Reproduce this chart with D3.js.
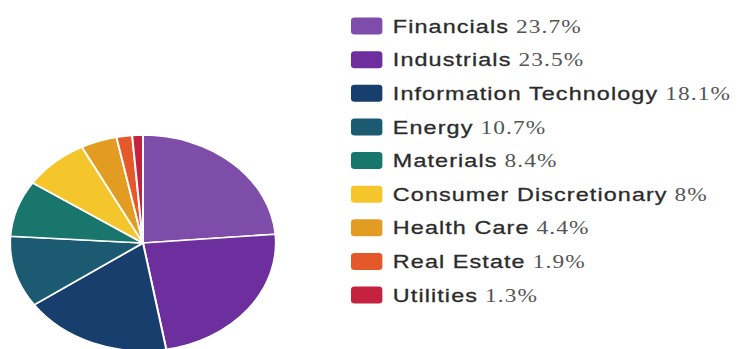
<!DOCTYPE html>
<html>
<head>
<meta charset="utf-8">
<script src="https://cdn.jsdelivr.net/npm/d3@7"></script>
<style>
  html, body { margin: 0; padding: 0; background: #fff; }
  svg { display: block; }
</style>
</head>
<body>
<svg id="chart" width="739" height="349"></svg>
<script>
// Sector weights (percent)
const sectors = ["Financials", "Industrials", "Information Technology", "Energy", "Materials",
                 "Consumer Discretionary", "Health Care", "Real Estate", "Utilities"];
const weights = [23.7, 23.5, 18.1, 10.7, 8.4, 8, 4.4, 1.9, 1.3];
const colors  = ["#7e4ca9", "#6c2f9d", "#173e6c", "#1c5a72", "#18766c",
                 "#f4c62b", "#e29c22", "#e4582a", "#c5223f"];

const data = sectors.map((name, i) => ({ name, value: weights[i], color: colors[i] }));

const svg = d3.select("#chart");
const stretchX = 1.23;   // horizontal stretch of the whole layout
const radius = 108;

// Pie
const pie = d3.pie().value(d => d.value).sort(null);
const arc = d3.arc().innerRadius(0).outerRadius(radius);

const pieG = svg.append("g")
  .attr("transform", `translate(143,243) scale(${stretchX},1)`);

pieG.selectAll("path")
  .data(pie(data))
  .join("path")
  .attr("d", arc)
  .attr("fill", d => d.data.color)
  .attr("stroke", "#fff")
  .attr("stroke-width", 1.6)
  .attr("stroke-linejoin", "round");

// Legend
const rowY = d3.scalePoint().domain(sectors).range([26, 295]);

const legend = svg.append("g")
  .attr("transform", `translate(351,0) scale(${stretchX},1)`);

const rows = legend.selectAll("g.row")
  .data(data)
  .join("g")
  .attr("class", "row")
  .attr("transform", d => `translate(0,${rowY(d.name)})`);

rows.append("rect")
  .attr("x", 0)
  .attr("y", -8.5)
  .attr("width", 25.5)
  .attr("height", 17)
  .attr("rx", 3)
  .attr("fill", d => d.color);

const label = rows.append("text")
  .attr("x", 34)
  .attr("dy", "0.35em")
  .style("font-size", "19px");

label.append("tspan")
  .style("font-family", "'Liberation Sans', Arial, sans-serif")
  .style("fill", "#2b2b2b")
  .style("stroke", "#2b2b2b")
  .style("stroke-width", "0.3px")
  .style("letter-spacing", "0.9px")
  .text(d => d.name);

label.append("tspan")
  .style("font-family", "'Liberation Serif', 'Times New Roman', serif")
  .style("fill", "#555")
  .style("letter-spacing", "0.9px")
  .text(d => " " + d.value + "%");
</script>
</body>
</html>
